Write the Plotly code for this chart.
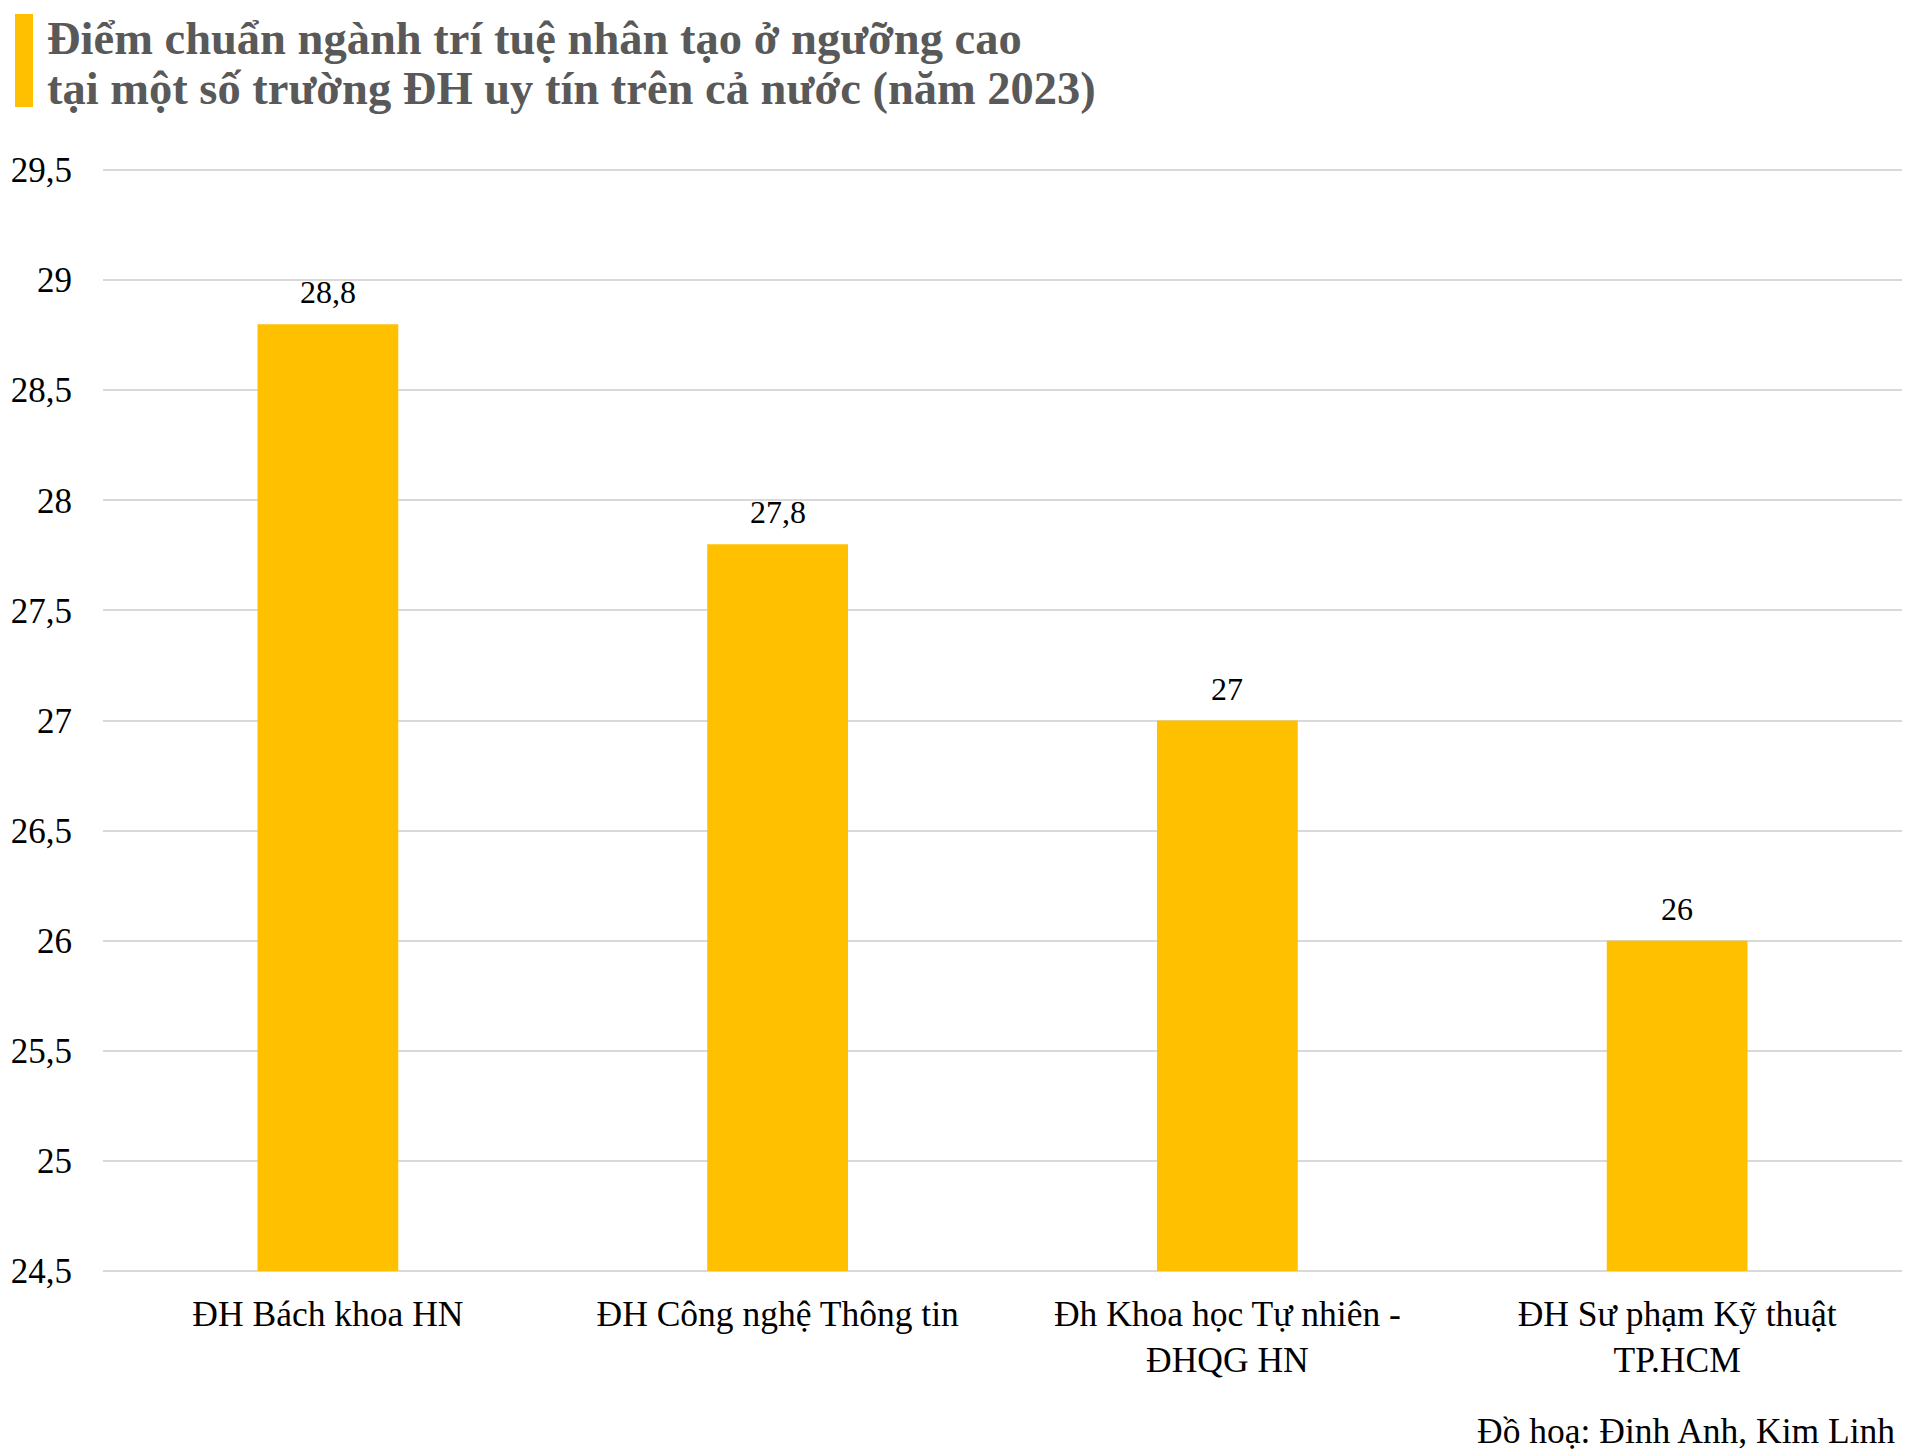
import plotly.graph_objects as go

categories = [
    "ĐH Bách khoa HN",
    "ĐH Công nghệ Thông tin",
    "Đh Khoa học Tự nhiên -<br>ĐHQG HN",
    "ĐH Sư phạm Kỹ thuật<br>TP.HCM",
]
scores = [28.8, 27.8, 27.0, 26.0]
y_min, y_max, y_step = 24.5, 29.5, 0.5

title_line1 = "Điểm chuẩn ngành trí tuệ nhân tạo ở ngưỡng cao"
title_line2 = "tại một số trường ĐH uy tín trên cả nước (năm 2023)"
credit = "Đồ hoạ: Đinh Anh, Kim Linh"

BAR = "#FFC000"
SERIF = "Liberation Serif, Times New Roman, serif"

W, H = 1925, 1452
PAD = 2  # pixels of breathing room so the edge gridlines are drawn
L, R, T, B = 103, 23, 170 - PAD, 181 - PAD
pw, ph = W - L - R, H - T - B
units_per_px = (y_max - y_min) / (ph - 2 * PAD)
r0, r1 = y_min - PAD * units_per_px, y_max + PAD * units_per_px

def px_x(x):
    return (x - L) / pw

def px_y(y):
    return (H - B - y) / ph

def fmt(v):
    return f"{v:g}".replace(".", ",")

fig = go.Figure()
fig.add_trace(go.Bar(
    x=categories, y=[v - y_min for v in scores], base=y_min,
    marker=dict(color=BAR, line=dict(width=0)),
    width=0.313, hoverinfo="skip",
))

annotations = []
for c, v in zip(categories, scores):
    annotations.append(dict(
        x=c, y=v, xref="x", yref="y", text=fmt(v), showarrow=False,
        yanchor="bottom", yshift=12,
        font=dict(family=SERIF, size=32, color="#000000"),
    ))

annotations += [
    dict(xref="paper", yref="paper", x=px_x(45), y=px_y(39), text=f"<b>{title_line1}</b>",
         showarrow=False, xanchor="left", yanchor="middle",
         font=dict(family=SERIF, size=46.5, color="#595959")),
    dict(xref="paper", yref="paper", x=px_x(45), y=px_y(88), text=f"<b>{title_line2}</b>",
         showarrow=False, xanchor="left", yanchor="middle",
         font=dict(family=SERIF, size=46.5, color="#595959")),
    dict(xref="paper", yref="paper", x=px_x(1897), y=px_y(1431), text=credit,
         showarrow=False, xanchor="right", yanchor="middle",
         font=dict(family=SERIF, size=35.5, color="#000000")),
]

fig.update_layout(
    width=W, height=H,
    margin=dict(l=L, r=R, t=T, b=B, autoexpand=False),
    paper_bgcolor="white", plot_bgcolor="white",
    separators=", ",
    showlegend=False,
    annotations=annotations,
    shapes=[dict(type="rect", xref="paper", yref="paper",
                 x0=px_x(15), x1=px_x(33), y0=px_y(107), y1=px_y(14),
                 fillcolor=BAR, line=dict(width=0), layer="above")],
    xaxis=dict(
        showgrid=False, showline=False, zeroline=False,
        tickfont=dict(family=SERIF, size=35.5, color="#000000"),
        ticks="", ticklabelstandoff=16,
    ),
    yaxis=dict(
        range=[r0, r1], tick0=y_min, dtick=y_step,
        showgrid=True, gridcolor="#D9D9D9", gridwidth=2,
        showline=False, zeroline=False,
        tickfont=dict(family=SERIF, size=35, color="#000000"),
        ticks="", ticklabelstandoff=30,
    ),
)

fig.write_html(
    "out.html",
    config={"displayModeBar": False},
    post_script="document.body.style.margin='0';document.body.style.overflow='hidden';",
)
